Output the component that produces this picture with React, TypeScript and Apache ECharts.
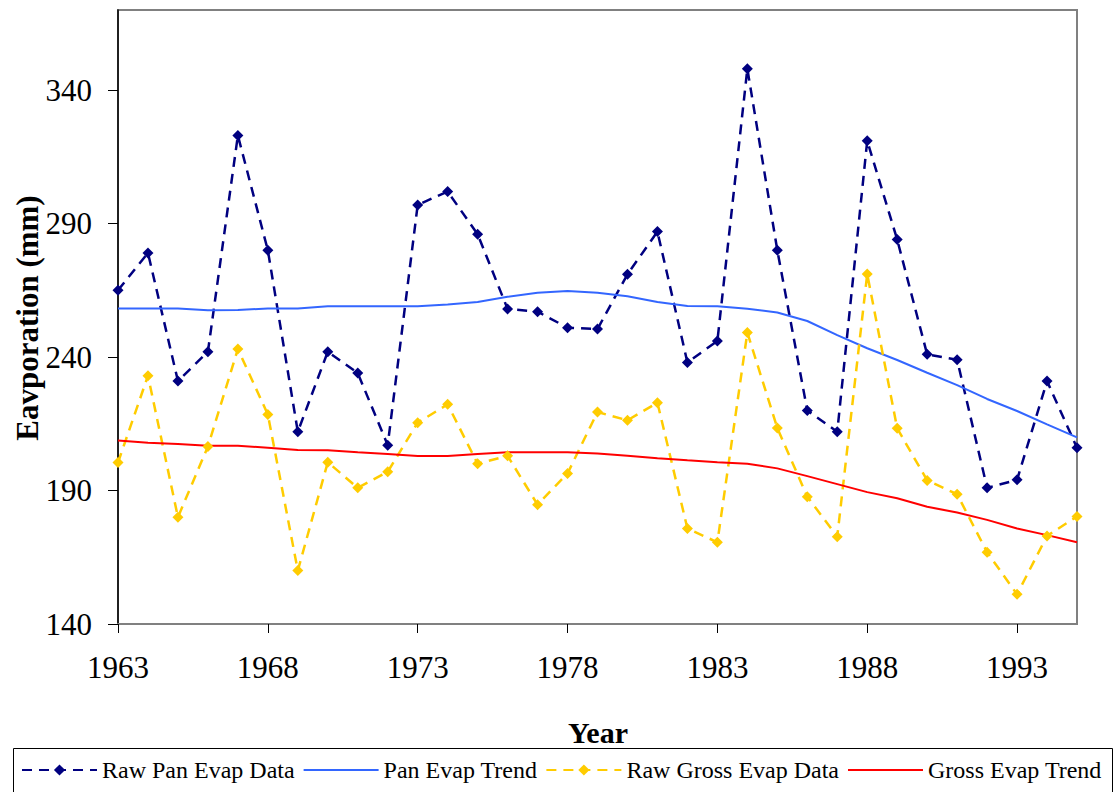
import React, { useEffect, useRef } from "react";
import * as echarts from "echarts";

const years = [
  "1963", "1964", "1965", "1966", "1967", "1968", "1969", "1970", "1971", "1972",
  "1973", "1974", "1975", "1976", "1977", "1978", "1979", "1980", "1981", "1982",
  "1983", "1984", "1985", "1986", "1987", "1988", "1989", "1990", "1991", "1992",
  "1993", "1994", "1995",
];

const rawPan = [
  265, 279, 231, 242, 323, 280, 212, 242, 234, 207,
  297, 302, 286, 258, 257, 251, 250.5, 271, 287, 238,
  246, 348, 280, 220, 212, 321, 284, 241, 239, 191,
  194, 231, 206,
];

const panTrend = [
  258.2, 258.2, 258.2, 257.5, 257.6, 258.2, 258.2, 259, 259, 259,
  259, 259.7, 260.6, 262.6, 264.1, 264.7, 264.1, 262.8, 260.6, 259.1,
  259, 258.1, 256.7, 253.5, 248.2, 243.3, 238.9, 234.1, 229.5, 224.3,
  219.8, 214.8, 209.9,
];

const rawGross = [
  200.5, 233, 180, 206.5, 243, 218.5, 160, 200.6, 191, 197,
  215.4, 222.3, 200, 203, 184.7, 196.4, 219.4, 216.3, 222.9, 175.8,
  170.6, 249.2, 213.4, 187.7, 172.7, 271.1, 213.3, 193.8, 188.6, 166.9,
  151.1, 173, 180.3,
];

const grossTrend = [
  208.7, 207.9, 207.4, 206.8, 206.8, 206, 205.2, 205.1, 204.3, 203.7,
  202.9, 202.9, 203.7, 204.3, 204.3, 204.3, 203.9, 203, 202.1, 201.3,
  200.6, 200, 198.3, 195.4, 192.4, 189.4, 187.1, 183.9, 181.8, 179,
  175.8, 173.3, 170.6,
];

const yTicks = [140, 190, 240, 290, 340];

const FONT = "'Liberation Serif', 'Times New Roman', serif";

export default function App() {
  const ref = useRef<HTMLDivElement>(null);

  useEffect(() => {
    if (!ref.current) return;
    const chart = echarts.init(ref.current, undefined, { renderer: "svg" });
    const dash = [10, 7];
    chart.setOption({
      animation: false,
      backgroundColor: "#ffffff",
      textStyle: { fontFamily: FONT },
      grid: {
        left: 118,
        top: 10,
        width: 959,
        height: 614,
        show: true,
        borderColor: "#808080",
        borderWidth: 2,
        backgroundColor: "transparent",
      },
      xAxis: {
        type: "category",
        data: years,
        boundaryGap: false,
        axisLine: { lineStyle: { color: "#808080", width: 2 } },
        axisTick: {
          interval: 4,
          length: 9,
          lineStyle: { color: "#000000", width: 1 },
        },
        axisLabel: {
          interval: 4,
          margin: 28,
          color: "#000000",
          fontFamily: FONT,
          fontSize: 31,
        },
        splitLine: { show: false },
      },
      yAxis: {
        type: "value",
        min: 140,
        max: 370,
        interval: 50,
        axisLine: { show: true, lineStyle: { color: "#000000", width: 1.5 } },
        axisTick: {
          show: true,
          length: 10,
          customValues: yTicks,
          lineStyle: { color: "#000000", width: 1 },
        },
        axisLabel: {
          customValues: yTicks,
          margin: 26,
          color: "#000000",
          fontFamily: FONT,
          fontSize: 31,
        },
        splitLine: { show: false },
      },
      legend: {
        left: 21,
        top: 758,
        padding: 0,
        itemWidth: 75,
        itemHeight: 14,
        itemGap: 8,
        textStyle: {
          fontFamily: FONT,
          fontSize: 24,
          color: "#000000",
          lineHeight: 24,
        },
        data: [
          { name: "Raw Pan Evap Data" },
          { name: "Pan Evap Trend", itemStyle: { opacity: 0 } },
          { name: "Raw Gross Evap Data" },
          { name: "Gross Evap Trend", itemStyle: { opacity: 0 } },
        ],
      },
      graphic: [
        {
          type: "rect",
          shape: { x: 13.5, y: 748.5, width: 1099, height: 60 },
          style: { fill: "none", stroke: "#000000", lineWidth: 1 },
          silent: true,
        },
        {
          type: "text",
          x: 27,
          y: 318,
          rotation: Math.PI / 2,
          style: {
            text: "Eavporation (mm)",
            font: `bold 31px ${FONT}`,
            fill: "#000000",
            align: "center",
            verticalAlign: "middle",
          },
        },
        {
          type: "text",
          x: 598,
          y: 732,
          style: {
            text: "Year",
            font: `bold 30px ${FONT}`,
            fill: "#000000",
            align: "center",
            verticalAlign: "middle",
          },
        },
      ],
      series: [
        {
          name: "Raw Pan Evap Data",
          type: "line",
          data: rawPan,
          symbol: "diamond",
          symbolSize: 11,
          itemStyle: { color: "#000080" },
          lineStyle: { color: "#000080", width: 2.5, type: dash },
        },
        {
          name: "Pan Evap Trend",
          type: "line",
          data: panTrend,
          symbol: "none",
          itemStyle: { color: "#3366FF" },
          lineStyle: { color: "#3366FF", width: 2 },
        },
        {
          name: "Raw Gross Evap Data",
          type: "line",
          data: rawGross,
          symbol: "diamond",
          symbolSize: 11,
          itemStyle: { color: "#FFCC00" },
          lineStyle: { color: "#FFCC00", width: 2.5, type: dash },
        },
        {
          name: "Gross Evap Trend",
          type: "line",
          data: grossTrend,
          symbol: "none",
          itemStyle: { color: "#FF0000" },
          lineStyle: { color: "#FF0000", width: 2 },
        },
      ],
    });
    return () => chart.dispose();
  }, []);

  return (
    <div
      ref={ref}
      style={{ position: "fixed", left: 0, top: 0, width: 1115, height: 792 }}
    />
  );
}
